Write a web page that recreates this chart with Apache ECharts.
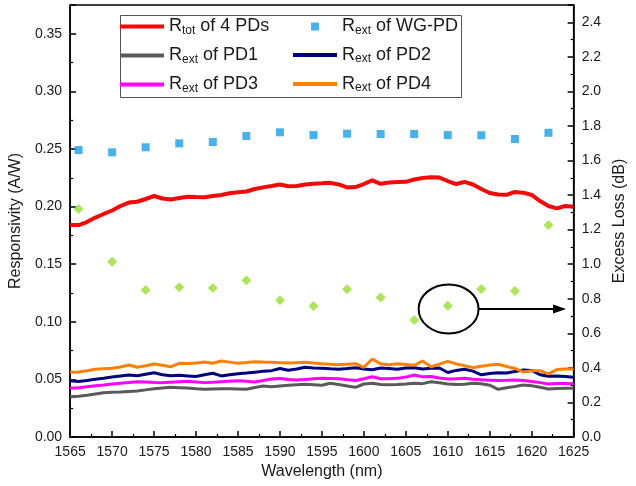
<!DOCTYPE html>
<html>
<head>
<meta charset="utf-8">
<script src="https://cdn.jsdelivr.net/npm/echarts@6/dist/echarts.min.js"></script>
<style>
  html, body { margin: 0; padding: 0; background: #fff; }
  #chart { width: 636px; height: 486px; }
</style>
</head>
<body>
<div id="chart"></div>
<script>
// Wavelength grid of the responsivity sweeps (nm)
const wavelength = [
  1565, 1566, 1567, 1568, 1569, 1570, 1571, 1572, 1573, 1574,
  1575, 1576, 1577, 1578, 1579, 1580, 1581, 1582, 1583, 1584,
  1585, 1586, 1587, 1588, 1589, 1590, 1591, 1592, 1593, 1594,
  1595, 1596, 1597, 1598, 1599, 1600, 1601, 1602, 1603, 1604,
  1605, 1606, 1607, 1608, 1609, 1610, 1611, 1612, 1613, 1614,
  1615, 1616, 1617, 1618, 1619, 1620, 1621, 1622, 1623, 1624,
  1625
];

// Total responsivity of the 4 PDs (A/W)
const rTot = [
  0.1840, 0.1840, 0.1866, 0.1905, 0.1936, 0.1966, 0.2005, 0.2035, 0.2042, 0.2066,
  0.2092, 0.2070, 0.2062, 0.2075, 0.2086, 0.2083, 0.2081, 0.2092, 0.2101, 0.2116,
  0.2124, 0.2131, 0.2153, 0.2167, 0.2179, 0.2192, 0.2176, 0.2179, 0.2192, 0.2199,
  0.2202, 0.2206, 0.2192, 0.2166, 0.2170, 0.2196, 0.2228, 0.2198, 0.2209, 0.2213,
  0.2215, 0.2235, 0.2248, 0.2254, 0.2252, 0.2222, 0.2196, 0.2215, 0.2192, 0.2153,
  0.2118, 0.2105, 0.2102, 0.2127, 0.2121, 0.2101, 0.2048, 0.2005, 0.1985, 0.2005,
  0.1999
];

// External responsivity of each PD (A/W)
const rPD1 = [
  0.0350, 0.0354, 0.0362, 0.0374, 0.0385, 0.0388, 0.0391, 0.0395, 0.0399, 0.0409,
  0.0419, 0.0425, 0.0431, 0.0428, 0.0425, 0.0419, 0.0414, 0.0417, 0.0419, 0.0418,
  0.0416, 0.0414, 0.0430, 0.0443, 0.0437, 0.0443, 0.0449, 0.0453, 0.0457, 0.0453,
  0.0449, 0.0466, 0.0455, 0.0443, 0.0431, 0.0460, 0.0466, 0.0456, 0.0454, 0.0456,
  0.0460, 0.0466, 0.0463, 0.0480, 0.0470, 0.0460, 0.0455, 0.0458, 0.0466, 0.0462,
  0.0450, 0.0414, 0.0428, 0.0438, 0.0451, 0.0445, 0.0432, 0.0417, 0.0422, 0.0423,
  0.0423
];
const rPD2 = [
  0.0489, 0.0482, 0.0490, 0.0501, 0.0510, 0.0520, 0.0530, 0.0538, 0.0532, 0.0545,
  0.0558, 0.0540, 0.0532, 0.0535, 0.0530, 0.0525, 0.0540, 0.0553, 0.0530, 0.0540,
  0.0550, 0.0556, 0.0563, 0.0570, 0.0576, 0.0594, 0.0580, 0.0590, 0.0605, 0.0600,
  0.0596, 0.0592, 0.0589, 0.0595, 0.0602, 0.0590, 0.0583, 0.0599, 0.0594, 0.0588,
  0.0598, 0.0602, 0.0591, 0.0596, 0.0599, 0.0560, 0.0578, 0.0588, 0.0572, 0.0540,
  0.0552, 0.0558, 0.0556, 0.0568, 0.0582, 0.0578, 0.0540, 0.0527, 0.0530, 0.0526,
  0.0518
];
const rPD3 = [
  0.0423, 0.0428, 0.0436, 0.0445, 0.0452, 0.0460, 0.0467, 0.0474, 0.0480, 0.0478,
  0.0474, 0.0472, 0.0476, 0.0480, 0.0483, 0.0478, 0.0472, 0.0475, 0.0480, 0.0485,
  0.0489, 0.0484, 0.0478, 0.0490, 0.0503, 0.0508, 0.0500, 0.0495, 0.0500, 0.0505,
  0.0509, 0.0508, 0.0506, 0.0498, 0.0490, 0.0505, 0.0523, 0.0505, 0.0505, 0.0509,
  0.0520, 0.0538, 0.0522, 0.0525, 0.0512, 0.0504, 0.0506, 0.0509, 0.0502, 0.0496,
  0.0493, 0.0490, 0.0492, 0.0495, 0.0490, 0.0482, 0.0472, 0.0460, 0.0465, 0.0464,
  0.0463
];
const rPD4 = [
  0.0562, 0.0565, 0.0575, 0.0588, 0.0592, 0.0596, 0.0608, 0.0625, 0.0605, 0.0618,
  0.0634, 0.0622, 0.0610, 0.0640, 0.0638, 0.0642, 0.0651, 0.0640, 0.0660, 0.0650,
  0.0640, 0.0646, 0.0654, 0.0650, 0.0648, 0.0645, 0.0642, 0.0645, 0.0648, 0.0642,
  0.0636, 0.0632, 0.0628, 0.0632, 0.0636, 0.0605, 0.0677, 0.0635, 0.0628, 0.0636,
  0.0630, 0.0622, 0.0660, 0.0610, 0.0632, 0.0657, 0.0635, 0.0618, 0.0602, 0.0615,
  0.0625, 0.0631, 0.0612, 0.0595, 0.0565, 0.0575, 0.0575, 0.0548, 0.0585, 0.0590,
  0.0590
];

// Reference waveguide PD and the resulting excess loss, sampled every 4 nm
const wgWavelength = [1566, 1570, 1574, 1578, 1582, 1586, 1590, 1594, 1598, 1602, 1606, 1610, 1614, 1618, 1622];
const rWG = [0.2491, 0.2471, 0.2515, 0.2549, 0.2561, 0.2613, 0.2645, 0.2621, 0.2633, 0.2630, 0.2630, 0.2621, 0.2619, 0.2587, 0.2641];
const excessLoss = [1.319, 1.014, 0.851, 0.866, 0.862, 0.907, 0.791, 0.758, 0.855, 0.808, 0.677, 0.760, 0.856, 0.845, 1.227];

// Highlight around the 1610 nm excess-loss point (center, half-width nm, half-height dB)
const noteCenter = [1610.1, 0.741];
const noteHalf = [3.57, 0.142];
const noteArrowEnd = 1624.1;

const FONT = '"Liberation Sans", Arial, Helvetica, sans-serif';
const TXT = '#1a1a1a';

const names = {
  tot: 'Rtot of 4 PDs',
  wg: 'Rext of WG-PD',
  pd1: 'Rext of PD1',
  pd2: 'Rext of PD2',
  pd3: 'Rext of PD3',
  pd4: 'Rext of PD4'
};
const legendRich = {
  [names.tot]: '{m|R}{s|tot}{m| of 4 PDs}',
  [names.wg]: '{m|R}{s|ext}{m| of WG-PD}',
  [names.pd1]: '{m|R}{s|ext}{m| of PD1}',
  [names.pd2]: '{m|R}{s|ext}{m| of PD2}',
  [names.pd3]: '{m|R}{s|ext}{m| of PD3}',
  [names.pd4]: '{m|R}{s|ext}{m| of PD4}'
};

const pair = (xs, ys) => xs.map((x, i) => [x, ys[i]]);

function lineSeries(name, values, color, width) {
  return {
    name: name,
    type: 'line',
    data: pair(wavelength, values),
    showSymbol: false,
    color: color,
    itemStyle: { color: color },
    lineStyle: { color: color, width: width },
    z: 3
  };
}

const richStyles = {
  m: { fontSize: 18, fontFamily: FONT, color: TXT, lineHeight: 20 },
  s: { fontSize: 12, fontFamily: FONT, color: TXT, lineHeight: 12, padding: [8, 0, 0, 0] }
};
const legendBase = {
  orient: 'vertical',
  padding: 0,
  selectedMode: false,
  formatter: n => legendRich[n],
  textStyle: { fontFamily: FONT, color: TXT, rich: richStyles }
};

function axisCommon() {
  return {
    axisLine: { show: true, lineStyle: { color: '#000', width: 1.5 } },
    axisTick: { show: true, inside: true, length: 6, lineStyle: { color: '#000', width: 1.5 } },
    minorTick: { show: true, splitNumber: 2, length: 3, lineStyle: { color: '#000', width: 1.2 } },
    splitLine: { show: false },
    axisLabel: { color: TXT, fontSize: 14, fontFamily: FONT, margin: 8 },
    nameLocation: 'middle',
    nameTextStyle: { color: TXT, fontSize: 16, fontFamily: FONT }
  };
}

const chart = echarts.init(document.getElementById('chart'), null, { renderer: 'canvas' });

const xAxis = Object.assign(axisCommon(), {
  type: 'value', min: 1565, max: 1625, interval: 5,
  name: 'Wavelength (nm)', nameGap: 26
});
xAxis.axisLabel = Object.assign({}, xAxis.axisLabel, { formatter: v => String(v) });
const yLeft = Object.assign(axisCommon(), {
  type: 'value', min: 0, max: 0.375, interval: 0.05,
  name: 'Responsivity (A/W)', nameGap: 42
});
yLeft.axisLabel = Object.assign({}, yLeft.axisLabel, { formatter: v => v.toFixed(2), showMaxLabel: false });
const yRight = Object.assign(axisCommon(), {
  type: 'value', position: 'right', min: 0, max: 2.5, interval: 0.2,
  name: 'Excess Loss (dB)', nameGap: 38
});
yRight.axisLabel = Object.assign({}, yRight.axisLabel, { formatter: v => v.toFixed(1), showMaxLabel: false });

chart.setOption({
  animation: false,
  backgroundColor: '#fff',
  grid: { left: 68, right: 55, top: 5, bottom: 49, show: true, borderColor: '#000', borderWidth: 1.5, backgroundColor: 'transparent' },
  xAxis: xAxis,
  yAxis: [yLeft, yRight],
  legend: [
    Object.assign({}, legendBase, {
      left: 120, top: 16.5, itemWidth: 44, itemHeight: 4, icon: 'rect', itemGap: 9,
      data: [names.tot, names.pd1, names.pd3]
    }),
    Object.assign({}, legendBase, {
      left: 293, top: 45, itemWidth: 44, itemHeight: 4, icon: 'rect', itemGap: 9,
      data: [names.pd2, names.pd4]
    }),
    Object.assign({}, legendBase, {
      left: 311, top: 16.5, itemWidth: 8, itemHeight: 8, icon: 'rect',
      textStyle: { fontFamily: FONT, color: TXT, rich: richStyles, padding: [0, 0, 0, 18] },
      data: [names.wg]
    })
  ],
  series: [
    lineSeries(names.tot, rTot, '#f00a0a', 4),
    {
      name: names.wg,
      type: 'scatter',
      data: pair(wgWavelength, rWG),
      symbol: 'rect',
      symbolSize: 8,
      color: '#1a9ee6',
      itemStyle: { color: '#1a9ee6' },
      z: 4
    },
    lineSeries(names.pd1, rPD1, '#5a5a5a', 3),
    lineSeries(names.pd2, rPD2, '#00007f', 3),
    lineSeries(names.pd3, rPD3, '#ff00ff', 3),
    lineSeries(names.pd4, rPD4, '#ff8000', 3),
    {
      name: 'Excess loss',
      type: 'scatter',
      yAxisIndex: 1,
      data: pair(wgWavelength, excessLoss),
      symbol: 'diamond',
      symbolSize: [10, 10],
      color: '#99dd33',
      itemStyle: { color: '#99dd33' },
      z: 4
    }
  ]
});

// Legend frame and the ellipse/arrow callout pointing to the right axis
const toPx = p => chart.convertToPixel({ xAxisIndex: 0, yAxisIndex: 1 }, p);
const c = toPx(noteCenter);
const corner = toPx([noteCenter[0] + noteHalf[0], noteCenter[1] + noteHalf[1]]);
const rx = corner[0] - c[0];
const ry = c[1] - corner[1];
const tip = toPx([noteArrowEnd, noteCenter[1]]);

chart.setOption({
  graphic: [
    {
      type: 'rect', z: 0, silent: true,
      shape: { x: 120.5, y: 15.5, width: 341, height: 82 },
      style: { fill: '#fff', stroke: '#555', lineWidth: 1 }
    },
    {
      type: 'ellipse', z: 10, silent: true,
      shape: { cx: c[0], cy: c[1], rx: rx, ry: ry },
      style: { fill: 'none', stroke: '#000', lineWidth: 2 }
    },
    {
      type: 'line', z: 10, silent: true,
      shape: { x1: c[0] + rx, y1: c[1], x2: tip[0] - 10, y2: tip[1] },
      style: { stroke: '#000', lineWidth: 2 }
    },
    {
      type: 'polygon', z: 10, silent: true,
      shape: { points: [[tip[0], tip[1]], [tip[0] - 13, tip[1] - 4.5], [tip[0] - 13, tip[1] + 4.5]] },
      style: { fill: '#000' }
    }
  ]
});
</script>
</body>
</html>
